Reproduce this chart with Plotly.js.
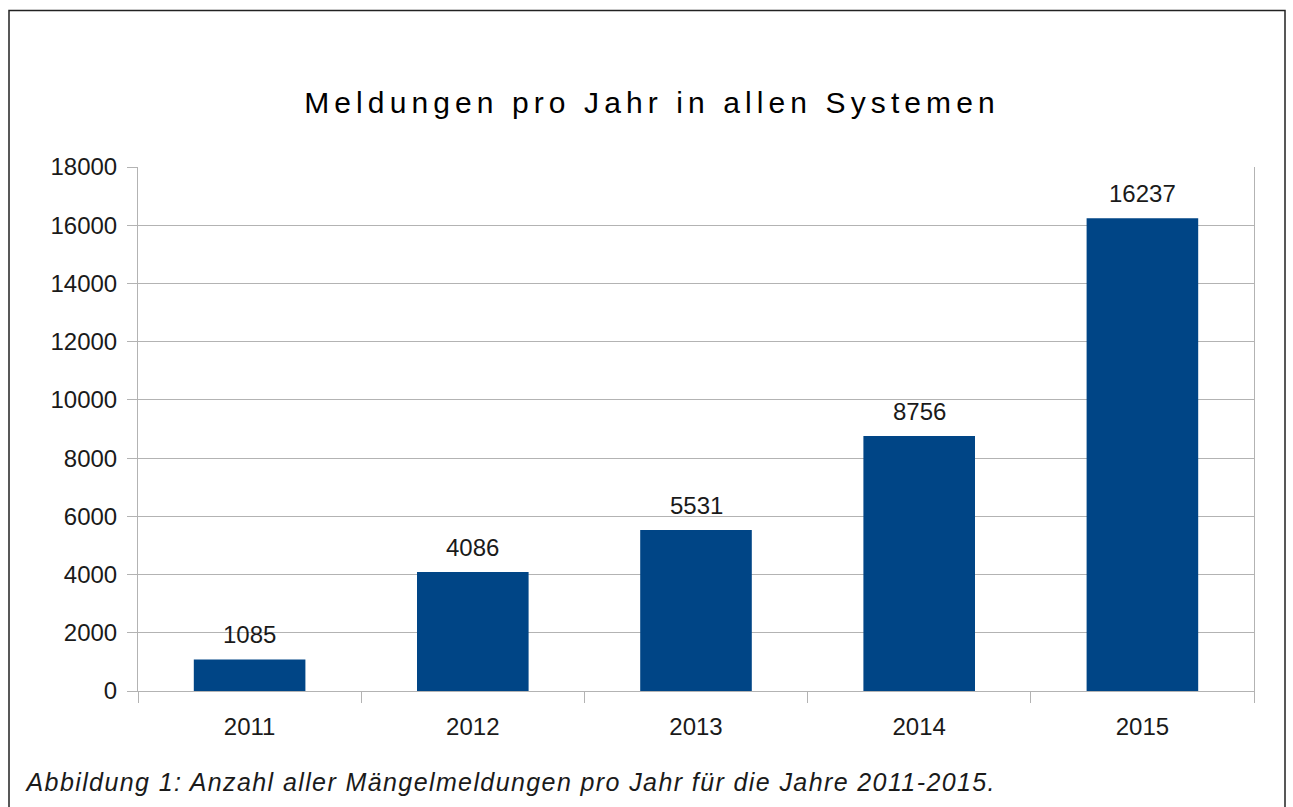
<!DOCTYPE html>
<html>
<head>
<meta charset="utf-8">
<script src="https://cdn.plot.ly/plotly-3.0.1.min.js"></script>
<style>
  html, body { margin: 0; padding: 0; background: #fff; }
  #chart { width: 1293px; height: 807px; }
  /* the original text is set with wider tracking */
  .gtitle { letter-spacing: 5.1px; }
  g.annotation[data-index="5"] text { letter-spacing: 1.4px; }
</style>
</head>
<body>
<div id="chart"></div>
<script>
// Meldungen pro Jahr
let years = ['2011', '2012', '2013', '2014', '2015'];
let reports = [1085, 4086, 5531, 8756, 16237];
let yTicks = [0, 2000, 4000, 6000, 8000, 10000, 12000, 14000, 16000, 18000];

let font = 'Liberation Sans, Arial, sans-serif';
let W = 1293, H = 807;
let m = {l: 138, r: 39, t: 167, b: 116};
let pw = W - m.l - m.r, ph = H - m.t - m.b;
// pixel -> paper
function px(x){ return (x - m.l) / pw; }
function py(y){ return (H - m.b - y) / ph; }

let trace = [{
  x: years,
  y: reports,
  type: 'bar',
  width: 0.5,
  marker: {color: '#004586'},
  hoverinfo: 'x+y'
}];

let labels = [];
for (let i = 0; i < years.length; i++) {
  labels.push({
    x: i, y: reports[i], xref: 'x', yref: 'y',
    text: String(reports[i]), showarrow: false,
    yanchor: 'bottom', yshift: 9,
    font: {family: font, size: 24, color: '#1a1a1a'}
  });
}
// caption, centred so the wider tracking spreads evenly
labels.push({
  xref: 'paper', yref: 'paper', x: px(510), y: py(782),
  xanchor: 'center', yanchor: 'middle', showarrow: false,
  text: '<i>Abbildung 1: Anzahl aller Mängelmeldungen pro Jahr für die Jahre 2011-2015.</i>',
  font: {family: font, size: 25, color: '#1a1a1a'}
});

let layout = {
  width: W, height: H,
  margin: m,
  paper_bgcolor: '#ffffff',
  plot_bgcolor: '#ffffff',
  showlegend: false,
  title: {
    text: 'Meldungen pro Jahr in allen Systemen',
    font: {family: font, size: 30, color: '#000000'},
    x: px(652), xref: 'paper', xanchor: 'center',
    y: 1 - 102 / H, yanchor: 'middle'
  },
  xaxis: {
    type: 'category',
    range: [-0.5, 4.5],
    tickson: 'boundaries',
    ticks: 'outside', ticklen: 11, tickcolor: '#b3b3b3', tickwidth: 1,
    showgrid: false,
    showline: true, linecolor: '#b3b3b3', linewidth: 1,
    ticklabelstandoff: 14,
    tickfont: {family: font, size: 24, color: '#1a1a1a'},
    fixedrange: true
  },
  yaxis: {
    range: [0, 18000],
    tickvals: yTicks,
    ticktext: yTicks.map(String),
    ticks: 'outside', ticklen: 10, tickcolor: '#b3b3b3', tickwidth: 1,
    showgrid: true, gridcolor: '#b3b3b3', gridwidth: 1,
    zeroline: false,
    showline: true, linecolor: '#b3b3b3', linewidth: 1, mirror: true,
    ticklabelstandoff: 5,
    tickfont: {family: font, size: 24, color: '#1a1a1a'},
    fixedrange: true
  },
  annotations: labels,
  shapes: [{
    type: 'rect', xref: 'paper', yref: 'paper',
    x0: px(9), x1: px(1285), y0: py(830), y1: py(10.5),
    line: {color: '#222222', width: 1.5},
    fillcolor: 'rgba(0,0,0,0)',
    layer: 'below'
  }]
};

Plotly.newPlot('chart', trace, layout, {displayModeBar: false, staticPlot: true});
</script>
</body>
</html>
